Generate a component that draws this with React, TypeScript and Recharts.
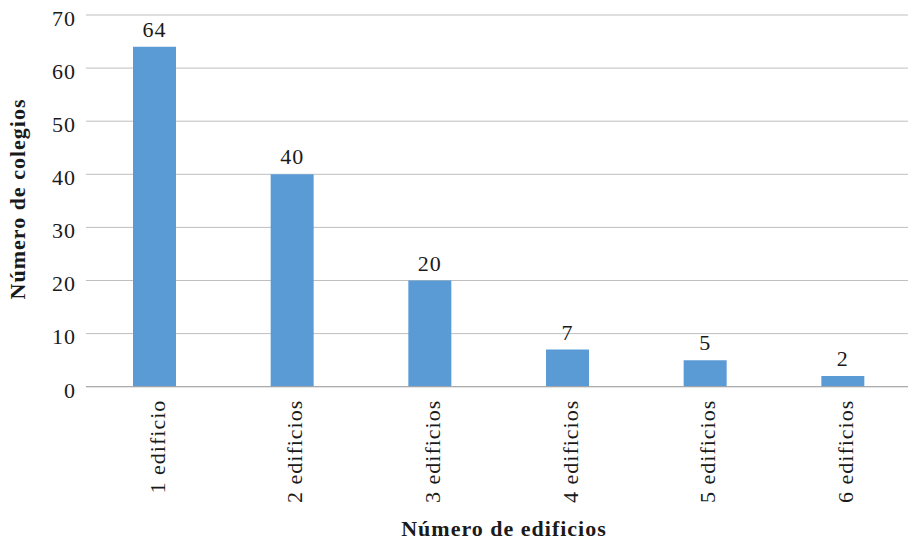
import React from 'react';
import { BarChart, Bar, XAxis, YAxis, CartesianGrid, LabelList } from 'recharts';

const categories = ['1 edificio', '2 edificios', '3 edificios', '4 edificios', '5 edificios', '6 edificios'];
const colegios = [64, 40, 20, 7, 5, 2];
const yTicks = [0, 10, 20, 30, 40, 50, 60, 70];

const data = categories.map((name, i) => ({ name, value: colegios[i] }));

const FONT = '"Liberation Serif", "DejaVu Serif", serif';
const INK = '#1a1a1a';

const CategoryTick = (props: any) => {
  const { x, y, payload } = props;
  return (
    <text
      x={x}
      y={y}
      dy={10}
      transform={`rotate(-90, ${x}, ${y})`}
      textAnchor="end"
      fontFamily={FONT}
      fontSize={22}
      letterSpacing={1}
      fill={INK}
    >
      {payload.value}
    </text>
  );
};

const App = () => {
  return (
    <div style={{ position: 'absolute', left: 0, top: 0, width: 908, height: 541, overflow: 'hidden', background: '#fff' }}>
      <BarChart
        width={912}
        height={541}
        data={data}
        margin={{ top: 15, right: 0, left: 0, bottom: 0 }}
      >
        <CartesianGrid vertical={false} stroke="#BFBFBF" strokeWidth={1} />
        <XAxis
          dataKey="name"
          height={154.3}
          interval={0}
          tickLine={false}
          tickSize={0}
          tickMargin={13}
          axisLine={{ stroke: '#A6A6A6' }}
          tick={<CategoryTick />}
          label={{
            content: () => (
              <text
                x={504}
                y={535.5}
                textAnchor="middle"
                fontFamily={FONT}
                fontSize={22}
                fontWeight="bold"
                letterSpacing={1}
                fill={INK}
              >
                Número de edificios
              </text>
            ),
          }}
        />
        <YAxis
          width={86}
          domain={[0, 70]}
          ticks={yTicks}
          interval={0}
          axisLine={false}
          tickLine={false}
          tickSize={0}
          tickMargin={10}
          tick={{ fontFamily: FONT, fontSize: 22, fill: INK, letterSpacing: 1, dy: 3 }}
          label={{
            content: () => (
              <text
                x={24.5}
                y={199}
                transform="rotate(-90, 24.5, 199)"
                textAnchor="middle"
                fontFamily={FONT}
                fontSize={22}
                fontWeight="bold"
                letterSpacing={1}
                fill={INK}
              >
                Número de colegios
              </text>
            ),
          }}
        />
        <Bar dataKey="value" fill="#5B9BD5" barSize={43} isAnimationActive={false}>
          <LabelList
            dataKey="value"
            position="top"
            offset={10}
            style={{ fontFamily: FONT, fontSize: 22, fill: INK, letterSpacing: 1 }}
          />
        </Bar>
      </BarChart>
    </div>
  );
};

export default App;
